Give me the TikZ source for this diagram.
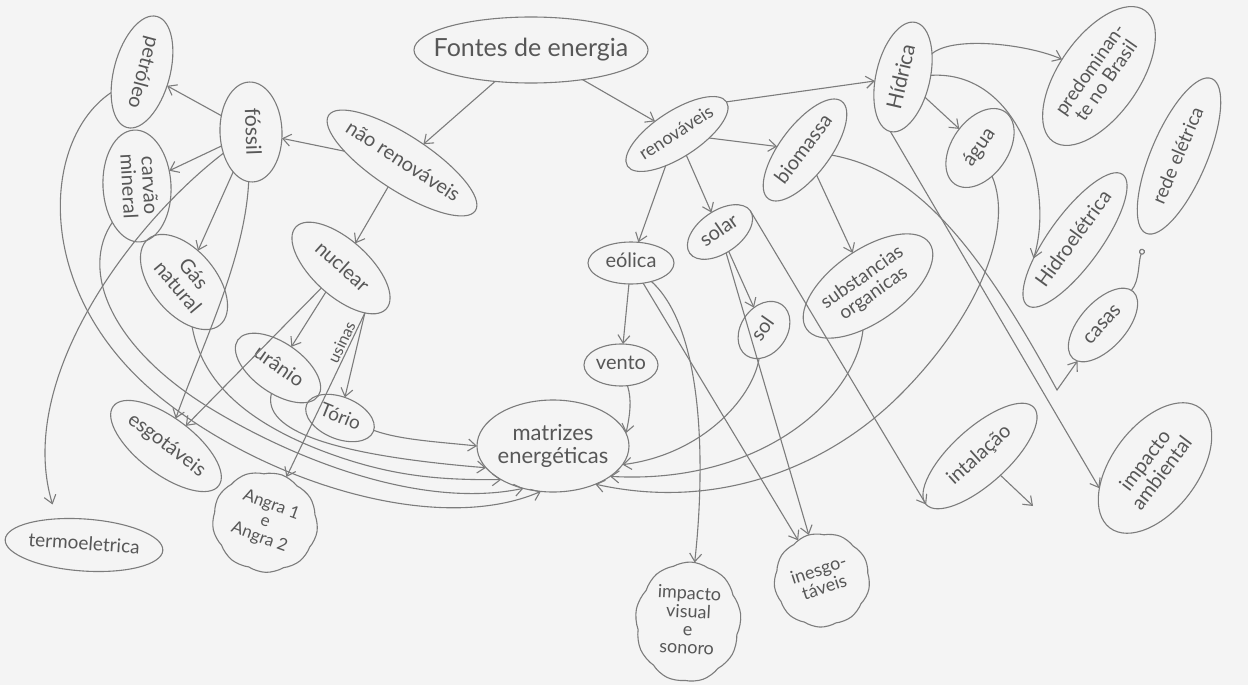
\documentclass[tikz,border=0pt]{standalone}
\usepackage{fontspec}
\setmainfont{Lato}
\usetikzlibrary{arrows.meta,shapes.geometric,shapes.symbols}
\definecolor{paper}{HTML}{F4F4F4}
\definecolor{pencil}{HTML}{7C7C7C}
\definecolor{graphite}{HTML}{575757}
% zero-size label box, so each bubble keeps exactly its given size
\newcommand\conceptlabel[1]{\makebox[0pt]{\smash{\raisebox{-0.28em}{\begin{tabular}{@{}c@{}}#1\end{tabular}}}}}
\tikzset{
  txt/.style={font=\fontsize{#1}{#1}\selectfont},
  concept/.style={draw=pencil, line width=1.1pt, ellipse, inner sep=0pt, outer sep=0pt, text=graphite, txt=20},
  blob/.style={concept, cloud, cloud puffs=9, cloud puff arc=65, cloud ignores aspect},
  link/.style={draw=pencil, line width=1.1pt, -{Straight Barb[length=8pt,width=12pt]}},
  wire/.style={draw=pencil, line width=1.1pt}
}
\begin{document}
\begin{tikzpicture}[x=1pt,y=-1pt]
\fill[paper] (0,0) rectangle (1248,685);
\useasboundingbox (0,0) rectangle (1248,685);

% ---------- concepts ----------
\node[concept, minimum width=234, minimum height=66, txt=25] (fontes) at (531,50) {\conceptlabel{Fontes de energia}};
\node[concept, rotate=-33, minimum width=175, minimum height=55] (naoren) at (402,163) {\conceptlabel{não renováveis}};
\node[concept, rotate=-88, minimum width=100, minimum height=62, txt=21] (fossil) at (251,132) {\conceptlabel{fóssil}};
\node[concept, rotate=-105, minimum width=115, minimum height=56] (petroleo) at (142,72) {\conceptlabel{petróleo}};
\node[concept, rotate=-87, minimum width=112, minimum height=68] (carvao) at (137,186) {\conceptlabel{carvão\\mineral}};
\node[concept, rotate=-50, minimum width=112, minimum height=64] (gas) at (184,282) {\conceptlabel{Gás\\natural}};
\node[concept, rotate=-42, minimum width=122, minimum height=56] (nuclear) at (341,268) {\conceptlabel{nuclear}};
\node[concept, rotate=-35, minimum width=98, minimum height=50] (uranio) at (278,368) {\conceptlabel{urânio}};
\node[concept, rotate=-22, minimum width=72, minimum height=42, txt=19] (torio) at (340,418) {\conceptlabel{Tório}};
\node[concept, rotate=-37, minimum width=132, minimum height=56] (esgot) at (166,446) {\conceptlabel{esgotáveis}};
\node[blob, rotate=-20, minimum width=106, minimum height=100, txt=17] (angra) at (265,522) {\conceptlabel{Angra 1\\e\\Angra 2}};
\node[concept, rotate=-4, minimum width=158, minimum height=52, txt=19] (termo) at (84,545) {\conceptlabel{termoeletrica}};
\node[concept, minimum width=152, minimum height=92, txt=22] (matrizes) at (553,446) {\conceptlabel{matrizes\\energéticas}};
\node[concept, rotate=33, minimum width=118, minimum height=46, txt=18] (renov) at (677,134) {\conceptlabel{renováveis}};
\node[concept, minimum width=86, minimum height=42] (eolica) at (631,263) {\conceptlabel{eólica}};
\node[concept, minimum width=74, minimum height=42] (vento) at (621,365) {\conceptlabel{vento}};
\node[concept, rotate=35, minimum width=74, minimum height=42] (solar) at (720,232) {\conceptlabel{solar}};
\node[concept, rotate=55, minimum width=62, minimum height=46] (sol) at (764,330) {\conceptlabel{sol}};
\node[concept, rotate=53, minimum width=122, minimum height=50] (biomassa) at (805,150) {\conceptlabel{biomassa}};
\node[concept, rotate=35, minimum width=150, minimum height=72, txt=19] (subst) at (868,286) {\conceptlabel{substancias\\organicas}};
\node[concept, rotate=77, minimum width=112, minimum height=54, txt=21] (hidrica) at (903,77) {\conceptlabel{Hídrica}};
\node[concept, rotate=55, minimum width=88, minimum height=56] (agua) at (980,148) {\conceptlabel{água}};
\node[concept, rotate=55, minimum width=160, minimum height=80, txt=19] (predom) at (1099,76) {\conceptlabel{predominan-\\te no Brasil}};
\node[concept, rotate=67, minimum width=168, minimum height=56, txt=19] (rede) at (1179,156) {\conceptlabel{rede elétrica}};
\node[concept, rotate=54, minimum width=162, minimum height=52] (hidroel) at (1075,240) {\conceptlabel{Hidroelétrica}};
\node[concept, rotate=48, minimum width=90, minimum height=46] (casas) at (1103,325) {\conceptlabel{casas}};
\node[concept, rotate=42, minimum width=145, minimum height=56] (intal) at (980,456) {\conceptlabel{intalação}};
\node[concept, rotate=53, minimum width=150, minimum height=86] (impamb) at (1155,468) {\conceptlabel{impacto\\ambiental}};
\node[blob, rotate=-3, minimum width=106, minimum height=120, txt=18] (impvis) at (688,622) {\conceptlabel{impacto\\visual\\e\\sonoro}};
\node[blob, rotate=18, minimum width=96, minimum height=94, txt=18] (inesg) at (822,580) {\conceptlabel{inesgo-\\táveis}};

\coordinate (split) at (1057,390);
\coordinate (instEnd) at (1033,506);

% ---------- non-renewable branch ----------
\draw[link] (fontes) -- (naoren);
\draw[link] (naoren) -- (fossil);
\draw[link] (naoren) -- (nuclear);
\draw[link] (fossil) -- (petroleo);
\draw[link] (fossil) -- (carvao);
\draw[link] (fossil) -- (gas);
\draw[link] (fossil) .. controls (245,260) and (200,350) .. (esgot);
\draw[link] (nuclear) -- (esgot);
\draw[link, shorten >=15pt] (fossil) .. controls (130,225) and (15,380) .. (termo.140);
\draw[link] (nuclear) -- (uranio);
\draw[link] (nuclear.-20) -- (torio);
\draw[link] (nuclear.-20) -- node[sloped, above, pos=0.2, txt=16, text=graphite, inner sep=2pt] (usinas) {usinas} (angra);

% curves into the energy matrix, left side
\draw[link] (torio) .. controls (400,440) and (440,442) .. (matrizes.180);
\draw[link] (uranio) .. controls (262,430) and (330,455) .. (matrizes.198);
\draw[link] (gas) .. controls (200,370) and (230,415) .. (320,450) .. controls (390,477) and (440,480) .. (matrizes.213);
\draw[link] (carvao) .. controls (80,270) and (110,345) .. (205,405) .. controls (290,458) and (420,510) .. (matrizes.235);
\draw[link] (petroleo) .. controls (40,140) and (30,300) .. (170,405) .. controls (275,485) and (440,535) .. (matrizes.255);

% ---------- renewable branch ----------
\draw[link] (fontes) -- (renov);
\draw[link] (renov) -- (eolica);
\draw[link] (renov) -- (solar);
\draw[link] (renov) -- (biomassa);
\draw[link] (renov.east) -- (hidrica);
\draw[link] (eolica) -- (vento);
\draw[link] (solar) -- (sol);
\draw[link] (biomassa) -- (subst);
\draw[link] (eolica) .. controls (705,330) and (705,470) .. (impvis);
\draw[link] (eolica) -- (inesg);
\draw[link] (solar) -- (inesg);
\draw[link] (solar.east) -- (intal.west);
\draw[link] (intal) -- (instEnd);

% curves into the energy matrix, right side
\draw[link] (vento) .. controls (632,400) and (630,415) .. (matrizes.10);
\draw[link] (sol) .. controls (752,400) and (700,455) .. (matrizes.345);
\draw[link] (subst) .. controls (855,400) and (760,485) .. (matrizes.332);
\draw[link] (agua) .. controls (1015,230) and (975,320) .. (900,395) .. controls (830,465) and (720,512) .. (matrizes.318);

% ---------- water branch ----------
\draw[link] (hidrica) -- (agua);
\draw[link] (hidrica) .. controls (955,35) and (1030,45) .. (predom);
\draw[link] (hidrica) .. controls (1020,70) and (1055,190) .. (hidroel.150);
\draw[link] (hidrica.west) -- (impamb.147);
\draw[link] (biomassa) .. controls (910,170) and (970,230) .. (split) -- (casas);
\draw[wire, -{Circle[open,length=6pt]}, shorten >=16pt] (casas) .. controls (1140,280) and (1138,262) .. (rede);
\end{tikzpicture}
\end{document}
